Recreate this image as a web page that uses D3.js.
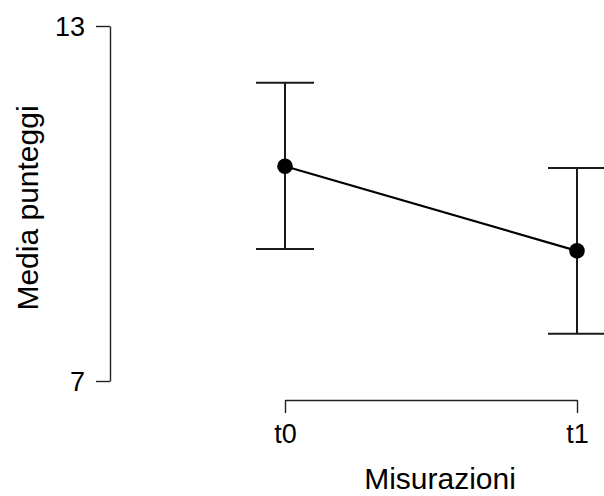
<!DOCTYPE html>
<html>
<head>
<meta charset="utf-8">
<script src="https://cdn.jsdelivr.net/npm/d3@7"></script>
<style>
  body { margin: 0; background: #fff; }
  svg { display: block; }
  text { font-family: "Liberation Sans", Arial, sans-serif; fill: #000; }
</style>
</head>
<body>
<svg id="chart" width="604" height="496"></svg>
<script>
// Data
const categories = ["t0", "t1"];
const means = [10.63, 9.20];
const upper = [12.04, 10.60];
const lower = [9.23, 7.80];
const yTicks = [7, 13];
const xLabel = "Misurazioni";
const yLabel = "Media punteggi";

const svg = d3.select("#chart");

const x = d3.scalePoint().domain(categories).range([285, 577]);
const y = d3.scaleLinear().domain([7, 13]).range([381, 26]);

// Y axis
const yAxis = svg.append("g")
  .attr("transform", "translate(110,0)")
  .call(d3.axisLeft(y).tickValues(yTicks).tickFormat(d3.format("d")).tickSize(14).tickSizeOuter(0).tickPadding(11));
yAxis.selectAll("text").style("font-size", "27px").attr("dy", "0.35em");
yAxis.selectAll("path, line").attr("stroke", "#222").attr("stroke-width", 1.4);

// X axis
const xAxis = svg.append("g")
  .attr("transform", "translate(0,400)")
  .call(d3.axisBottom(x).tickSize(13).tickSizeOuter(0).tickPadding(11));
xAxis.selectAll("text").style("font-size", "27px");
xAxis.selectAll("path, line").attr("stroke", "#222").attr("stroke-width", 1.4);

const data = categories.map((c, i) => ({ c, m: means[i], hi: upper[i], lo: lower[i] }));

// Error bars
const capHalf = 29;
const eb = svg.append("g").attr("stroke", "#1a1a1a").attr("stroke-width", 2).attr("fill", "none");
eb.selectAll("line.v").data(data).join("line").attr("class", "v")
  .attr("x1", d => x(d.c)).attr("x2", d => x(d.c))
  .attr("y1", d => y(d.hi)).attr("y2", d => y(d.lo));
eb.selectAll("line.top").data(data).join("line").attr("class", "top")
  .attr("x1", d => x(d.c) - capHalf).attr("x2", d => x(d.c) + capHalf)
  .attr("y1", d => y(d.hi)).attr("y2", d => y(d.hi));
eb.selectAll("line.bot").data(data).join("line").attr("class", "bot")
  .attr("x1", d => x(d.c) - capHalf).attr("x2", d => x(d.c) + capHalf)
  .attr("y1", d => y(d.lo)).attr("y2", d => y(d.lo));

// Connecting line
svg.append("path").datum(data)
  .attr("fill", "none").attr("stroke", "#000").attr("stroke-width", 2.2)
  .attr("d", d3.line().x(d => x(d.c)).y(d => y(d.m)));

// Points
svg.selectAll("circle.pt").data(data).join("circle").attr("class", "pt")
  .attr("cx", d => x(d.c)).attr("cy", d => y(d.m)).attr("r", 7.8).attr("fill", "#000");

// Axis titles
svg.append("text").attr("x", 440).attr("y", 489).attr("text-anchor", "middle")
  .style("font-size", "30px").text(xLabel);
svg.append("text").attr("transform", "translate(38,208) rotate(-90)").attr("text-anchor", "middle")
  .style("font-size", "30px").text(yLabel);
</script>
</body>
</html>
